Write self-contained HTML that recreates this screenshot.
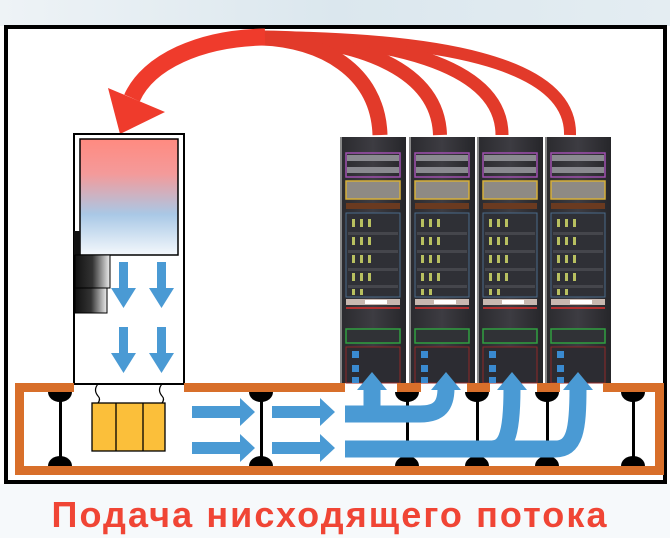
<!DOCTYPE html>
<html><head><meta charset="utf-8"><style>
html,body{margin:0;padding:0;background:#fff}
svg{display:block}
</style></head><body>
<svg width="670" height="538" viewBox="0 0 670 538" xmlns="http://www.w3.org/2000/svg">
<defs>
<linearGradient id="bg" x1="0" y1="0" x2="1" y2="0"><stop offset="0" stop-color="#eef3f6"/><stop offset="0.5" stop-color="#dbe7ee"/><stop offset="1" stop-color="#e4edf2"/></linearGradient>
<linearGradient id="hx" x1="0" y1="0" x2="0" y2="1"><stop offset="0" stop-color="#ff8a80"/><stop offset="0.3" stop-color="#f49a9a"/><stop offset="0.65" stop-color="#a9c8e6"/><stop offset="1" stop-color="#f4f8fc"/></linearGradient>
<linearGradient id="blk" x1="0" y1="0" x2="1" y2="0"><stop offset="0" stop-color="#111"/><stop offset="0.5" stop-color="#333"/><stop offset="1" stop-color="#eee"/></linearGradient>
<linearGradient id="rack" x1="0" y1="0" x2="1" y2="0"><stop offset="0" stop-color="#2a2a2e"/><stop offset="0.5" stop-color="#3d3c42"/><stop offset="1" stop-color="#26262a"/></linearGradient>
<g id="rk">
<rect x="0" y="0" width="66" height="246" fill="url(#rack)"/>
<rect x="0" y="0" width="2" height="246" fill="#888"/>
<rect x="6" y="16" width="54" height="24" fill="none" stroke="#a050b0" stroke-width="1.5"/>
<rect x="7" y="18" width="52" height="6" fill="#8a8a90"/>
<rect x="7" y="30" width="52" height="6" fill="#8a8a90"/>
<rect x="6" y="44" width="54" height="18" fill="#8e8a84" stroke="#d6b03a" stroke-width="1.5"/>
<rect x="6" y="66" width="54" height="6" fill="#6a3a20"/>
<rect x="6" y="76" width="54" height="84" fill="#2f3036" stroke="#4a6a8a" stroke-width="1"/>
<g fill="#45464c"><rect x="8" y="95" width="50" height="3"/><rect x="8" y="113" width="50" height="3"/><rect x="8" y="131" width="50" height="3"/><rect x="8" y="148" width="50" height="3"/></g>
<g fill="#b8c060"><rect x="12" y="82" width="3" height="8"/><rect x="20" y="82" width="3" height="8"/><rect x="28" y="82" width="3" height="8"/>
<rect x="12" y="100" width="3" height="8"/><rect x="20" y="100" width="3" height="8"/><rect x="28" y="100" width="3" height="8"/>
<rect x="12" y="118" width="3" height="8"/><rect x="20" y="118" width="3" height="8"/><rect x="28" y="118" width="3" height="8"/>
<rect x="12" y="136" width="3" height="8"/><rect x="20" y="136" width="3" height="8"/><rect x="28" y="136" width="3" height="8"/>
<rect x="12" y="152" width="3" height="6"/><rect x="20" y="152" width="3" height="6"/></g>
<rect x="6" y="162" width="54" height="6" fill="#c8b8b0"/>
<rect x="25" y="163" width="22" height="4" fill="#fff"/>
<rect x="6" y="170" width="54" height="2" fill="#b03030"/>
<rect x="6" y="192" width="54" height="14" fill="#303236" stroke="#30a040" stroke-width="1.5"/>
<rect x="6" y="210" width="54" height="36" fill="#2c2c32" stroke="#902828" stroke-width="1"/>
<rect x="12" y="214" width="7" height="7" fill="#3a8ad0"/><rect x="12" y="228" width="7" height="7" fill="#3a8ad0"/><rect x="12" y="240" width="7" height="6" fill="#3a8ad0"/>
</g>
</defs>
<rect x="0" y="0" width="670" height="538" fill="#fff"/>
<rect x="0" y="0" width="670" height="26" fill="url(#bg)"/>
<rect x="0" y="484" width="670" height="54" fill="#f6f9fb"/>
<rect x="6" y="27" width="659" height="455" fill="#fff" stroke="#000" stroke-width="4"/>

<!-- racks -->
<use href="#rk" x="340" y="137"/>
<use href="#rk" x="409" y="137"/>
<use href="#rk" x="477" y="137"/>
<use href="#rk" x="545" y="137"/>

<!-- red arcs -->
<g fill="none" stroke="#e23a2a" stroke-linecap="butt">
<path d="M570,135 C572,60 430,38 262,37" stroke-width="12"/>
<path d="M502,135 C502,62 380,38 262,37" stroke-width="13"/>
<path d="M440,135 C438,62 340,38 262,38" stroke-width="14"/>
<path d="M380,135 C378,70 320,40 262,38" stroke-width="15"/>
<path d="M265,37 C200,38 148,62 132,98" stroke-width="17" stroke="#ef3b2c"/>
</g>
<polygon points="108,88 165,112 120,134" fill="#ef3b2c"/>

<!-- AC unit -->
<rect x="74" y="134" width="110" height="250" fill="#fff" stroke="#000" stroke-width="2"/>
<rect x="80" y="139" width="98" height="116" fill="url(#hx)" stroke="#000" stroke-width="1.5"/>
<rect x="74" y="231" width="6" height="24" fill="#111"/>
<rect x="75" y="255" width="35" height="33" fill="url(#blk)" stroke="#000" stroke-width="1"/>
<rect x="75" y="288" width="32" height="25" fill="url(#blk)" stroke="#000" stroke-width="1"/>
<g fill="#4a9ad4">
<path d="M119,262h9v26h8l-12.5,20l-12.5,-20h8z"/>
<path d="M157,262h9v26h8l-12.5,20l-12.5,-20h8z"/>
<path d="M119,327h9v26h8l-12.5,20l-12.5,-20h8z"/>
<path d="M157,327h9v26h8l-12.5,20l-12.5,-20h8z"/>
</g>

<!-- floor -->
<g fill="#d86f2a">
<rect x="15" y="383" width="59" height="9"/>
<rect x="184" y="383" width="161" height="9"/>
<rect x="397" y="383" width="24" height="9"/>
<rect x="467" y="383" width="23" height="9"/>
<rect x="537" y="383" width="23" height="9"/>
<rect x="603" y="383" width="60" height="9"/>
<rect x="15" y="383" width="9" height="92"/>
<rect x="655" y="383" width="9" height="92"/>
<rect x="15" y="466" width="649" height="9"/>
</g>
<!-- pedestals -->
<g fill="#000" stroke="#000">
<g id="pd"><path d="M48,392 h24 a12,10 0 0 1 -24,0z" stroke="none"/><rect x="59" y="395" width="3" height="66" stroke="none"/><path d="M48,466 h24 a12,10 0 0 0 -24,0z" stroke="none"/></g>
<use href="#pd" x="201"/><use href="#pd" x="347"/><use href="#pd" x="417"/><use href="#pd" x="487"/><use href="#pd" x="573"/>
</g>
<!-- connectors & filter -->
<path d="M98,384 q-5,6 0,12 q3,3 0,7" fill="none" stroke="#000" stroke-width="1.2"/>
<path d="M162,384 q-5,6 0,12 q3,3 0,7" fill="none" stroke="#000" stroke-width="1.2"/>
<rect x="92" y="403" width="73" height="48" fill="#fbbf3a" stroke="#000" stroke-width="1.3"/>
<line x1="116" y1="403" x2="116" y2="451" stroke="#000" stroke-width="1.3"/>
<line x1="143" y1="403" x2="143" y2="451" stroke="#000" stroke-width="1.3"/>

<!-- blue flows -->
<g fill="#4a9ad4">
<path d="M192,406h48v-8l15,14l-15,14v-8h-48z"/>
<path d="M192,442h48v-8l15,14l-15,14v-8h-48z"/>
<path d="M272,406h48v-8l15,14l-15,14v-8h-48z"/>
<path d="M272,442h48v-8l15,14l-15,14v-8h-48z"/>
</g>
<g fill="none" stroke="#4a9ad4" stroke-width="17">
<path d="M345,414 H372"/>
<path d="M372,414 V388"/>
<path d="M360,414 H420 C440,414 446,405 446,388"/>
<path d="M345,449 H490 C505,449 512,440 512,388"/>
<path d="M480,449 H555 C575,449 578,430 578,388"/>
</g>
<g fill="#4a9ad4">
<polygon points="357,390 387,390 372,372"/>
<polygon points="431,390 461,390 446,372"/>
<polygon points="497,390 527,390 512,372"/>
<polygon points="563,390 593,390 578,372"/>
</g>

<text x="329" y="527" text-anchor="middle" font-family="'Liberation Sans','DejaVu Sans',sans-serif" font-weight="bold" font-size="36" fill="#f04535" textLength="555" lengthAdjust="spacing">Подача нисходящего потока</text>
</svg>
</body></html>
